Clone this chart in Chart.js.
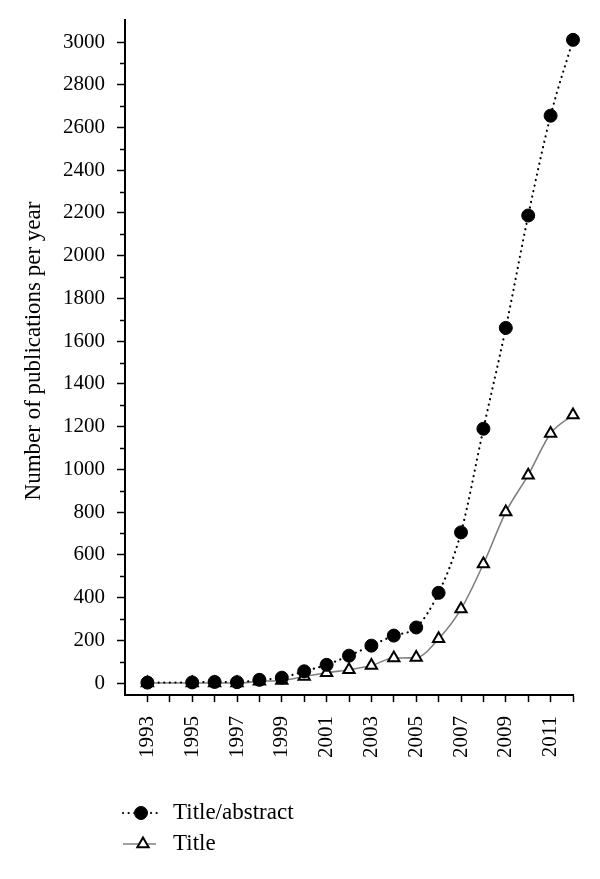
<!DOCTYPE html>
<html>
<head>
<meta charset="utf-8">
<script src="https://cdn.jsdelivr.net/npm/chart.js@4.4.1/dist/chart.umd.min.js"></script>
<style>
  html, body { margin: 0; padding: 0; background: #fff; }
  #wrap { width: 600px; height: 879px; }
</style>
</head>
<body>
<div id="wrap"><canvas id="pubChart" width="600" height="879"></canvas></div>
<script>
// publication counts
const years = [1993, 1995, 1996, 1997, 1998, 1999, 2000, 2001, 2002, 2003, 2004, 2005, 2006, 2007, 2008, 2009, 2010, 2011, 2012];
const titleAbstract = [2, 3, 5, 4, 15, 25, 55, 85, 128, 175, 222, 260, 422, 705, 1190, 1662, 2188, 2655, 3010];
const titleOnly = [0, 0, 0, 0, 8, 12, 30, 48, 62, 82, 117, 119, 207, 346, 557, 800, 973, 1168, 1254];
const yTicks = [0, 200, 400, 600, 800, 1000, 1200, 1400, 1600, 1800, 2000, 2200, 2400, 2600, 2800, 3000];
const xTicks = [1993, 1994, 1995, 1996, 1997, 1998, 1999, 2000, 2001, 2002, 2003, 2004, 2005, 2006, 2007, 2008, 2009, 2010, 2011, 2012];
const seriesNames = ['Title/abstract', 'Title'];
const yTitle = 'Number of publications per year';

const FONT = "'Liberation Serif', 'DejaVu Serif', serif";

function toPoints(vals) {
    return years.map((yr, i) => ({ x: yr, y: vals[i] }));
}

// minor y ticks, axis title and the legend drawn by hand
const extras = {
    id: 'extras',
    afterDraw(chart) {
        const ctx = chart.ctx;
        const y = chart.scales.y;
        const left = y.right;

        ctx.save();
        ctx.strokeStyle = '#000';
        ctx.lineWidth = 1.5;
        for (let v = 100; v < 3100; v += 200) {
            const py = Math.round(y.getPixelForValue(v)) + 0.5;
            ctx.beginPath();
            ctx.moveTo(left - 5, py);
            ctx.lineTo(left, py);
            ctx.stroke();
        }

        // y title
        ctx.fillStyle = '#000';
        ctx.font = '23px ' + FONT;
        ctx.textAlign = 'center';
        ctx.textBaseline = 'middle';
        ctx.translate(34, 351);
        ctx.rotate(-Math.PI / 2);
        ctx.fillText(yTitle, 0, 0);
        ctx.restore();

        // legend
        const rows = [813, 844];
        const mx = 141;
        chart.data.datasets.forEach((ds, i) => {
            const ly = rows[i];
            ctx.save();
            ctx.strokeStyle = ds.borderColor;
            ctx.lineWidth = ds.borderWidth;
            ctx.lineCap = ds.borderCapStyle || 'butt';
            ctx.setLineDash(ds.borderDash || []);
            ctx.beginPath();
            ctx.moveTo(123, ly);
            ctx.lineTo(i === 0 ? 160 : 156, ly);
            ctx.stroke();
            ctx.setLineDash([]);
            ctx.fillStyle = ds.pointBackgroundColor;
            ctx.strokeStyle = ds.pointBorderColor;
            ctx.lineWidth = ds.pointBorderWidth;
            ctx.beginPath();
            const r = ds.pointRadius;
            if (ds.pointStyle === 'circle') {
                ctx.arc(mx, ly, r, 0, Math.PI * 2);
            } else {
                const tx = mx + 2;
                ctx.moveTo(tx, ly - r);
                ctx.lineTo(tx + r * 0.866, ly + r * 0.5);
                ctx.lineTo(tx - r * 0.866, ly + r * 0.5);
                ctx.closePath();
            }
            ctx.fill();
            ctx.stroke();
            ctx.fillStyle = '#000';
            ctx.font = '23px ' + FONT;
            ctx.textAlign = 'left';
            ctx.textBaseline = 'middle';
            ctx.fillText(ds.label, 173, ly);
            ctx.restore();
        });
    }
};

let chart = new Chart(document.getElementById('pubChart').getContext('2d'), {
    type: 'line',
    data: {
        datasets: [{
            label: seriesNames[0],
            data: toPoints(titleAbstract),
            borderColor: '#000',
            borderWidth: 2.2,
            borderDash: [0.1, 5.5],
            borderCapStyle: 'round',
            pointStyle: 'circle',
            pointRadius: 6.5,
            pointBackgroundColor: '#000',
            pointBorderColor: '#000',
            pointBorderWidth: 1,
            cubicInterpolationMode: 'monotone',
            fill: false
        }, {
            label: seriesNames[1],
            data: toPoints(titleOnly),
            borderColor: '#808080',
            borderWidth: 1.6,
            pointStyle: 'triangle',
            pointRadius: 6.5,
            pointBackgroundColor: '#fff',
            pointBorderColor: '#000',
            pointBorderWidth: 2,
            cubicInterpolationMode: 'monotone',
            fill: false
        }]
    },
    options: {
        responsive: false,
        animation: false,
        clip: false,
        layout: { padding: { left: 0, top: 20, right: 27, bottom: 0 } },
        plugins: {
            legend: { display: false },
            tooltip: { enabled: false }
        },
        scales: {
            x: {
                type: 'linear',
                min: 1992,
                max: 2012,
                afterBuildTicks: (scale) => { scale.ticks = xTicks.map(v => ({ value: v })); },
                afterFit: (scale) => {
                    scale.height = 184;
                    scale.paddingLeft = 0;
                    scale.paddingRight = 0;
                },
                border: { display: true, color: '#000', width: 2 },
                grid: { drawOnChartArea: false, drawTicks: true, tickLength: 7, tickColor: '#000', tickWidth: 1.5 },
                ticks: {
                    color: '#000',
                    font: { family: FONT, size: 21 },
                    minRotation: 90,
                    maxRotation: 90,
                    padding: 14,
                    autoSkip: false,
                    callback: (v) => (v % 2 === 1 ? String(v) : '')
                }
            },
            y: {
                min: -56,
                max: 3103,
                afterBuildTicks: (scale) => { scale.ticks = yTicks.map(v => ({ value: v })); },
                afterFit: (scale) => {
                    scale.width = 125;
                    scale.paddingTop = 0;
                    scale.paddingBottom = 0;
                },
                border: { display: true, color: '#000', width: 2 },
                grid: { drawOnChartArea: false, drawTicks: true, tickLength: 8, tickColor: '#000', tickWidth: 1.5 },
                ticks: {
                    color: '#000',
                    font: { family: FONT, size: 21 },
                    padding: 12,
                    callback: (v) => String(v)
                }
            }
        }
    },
    plugins: [extras]
});
</script>
</body>
</html>
